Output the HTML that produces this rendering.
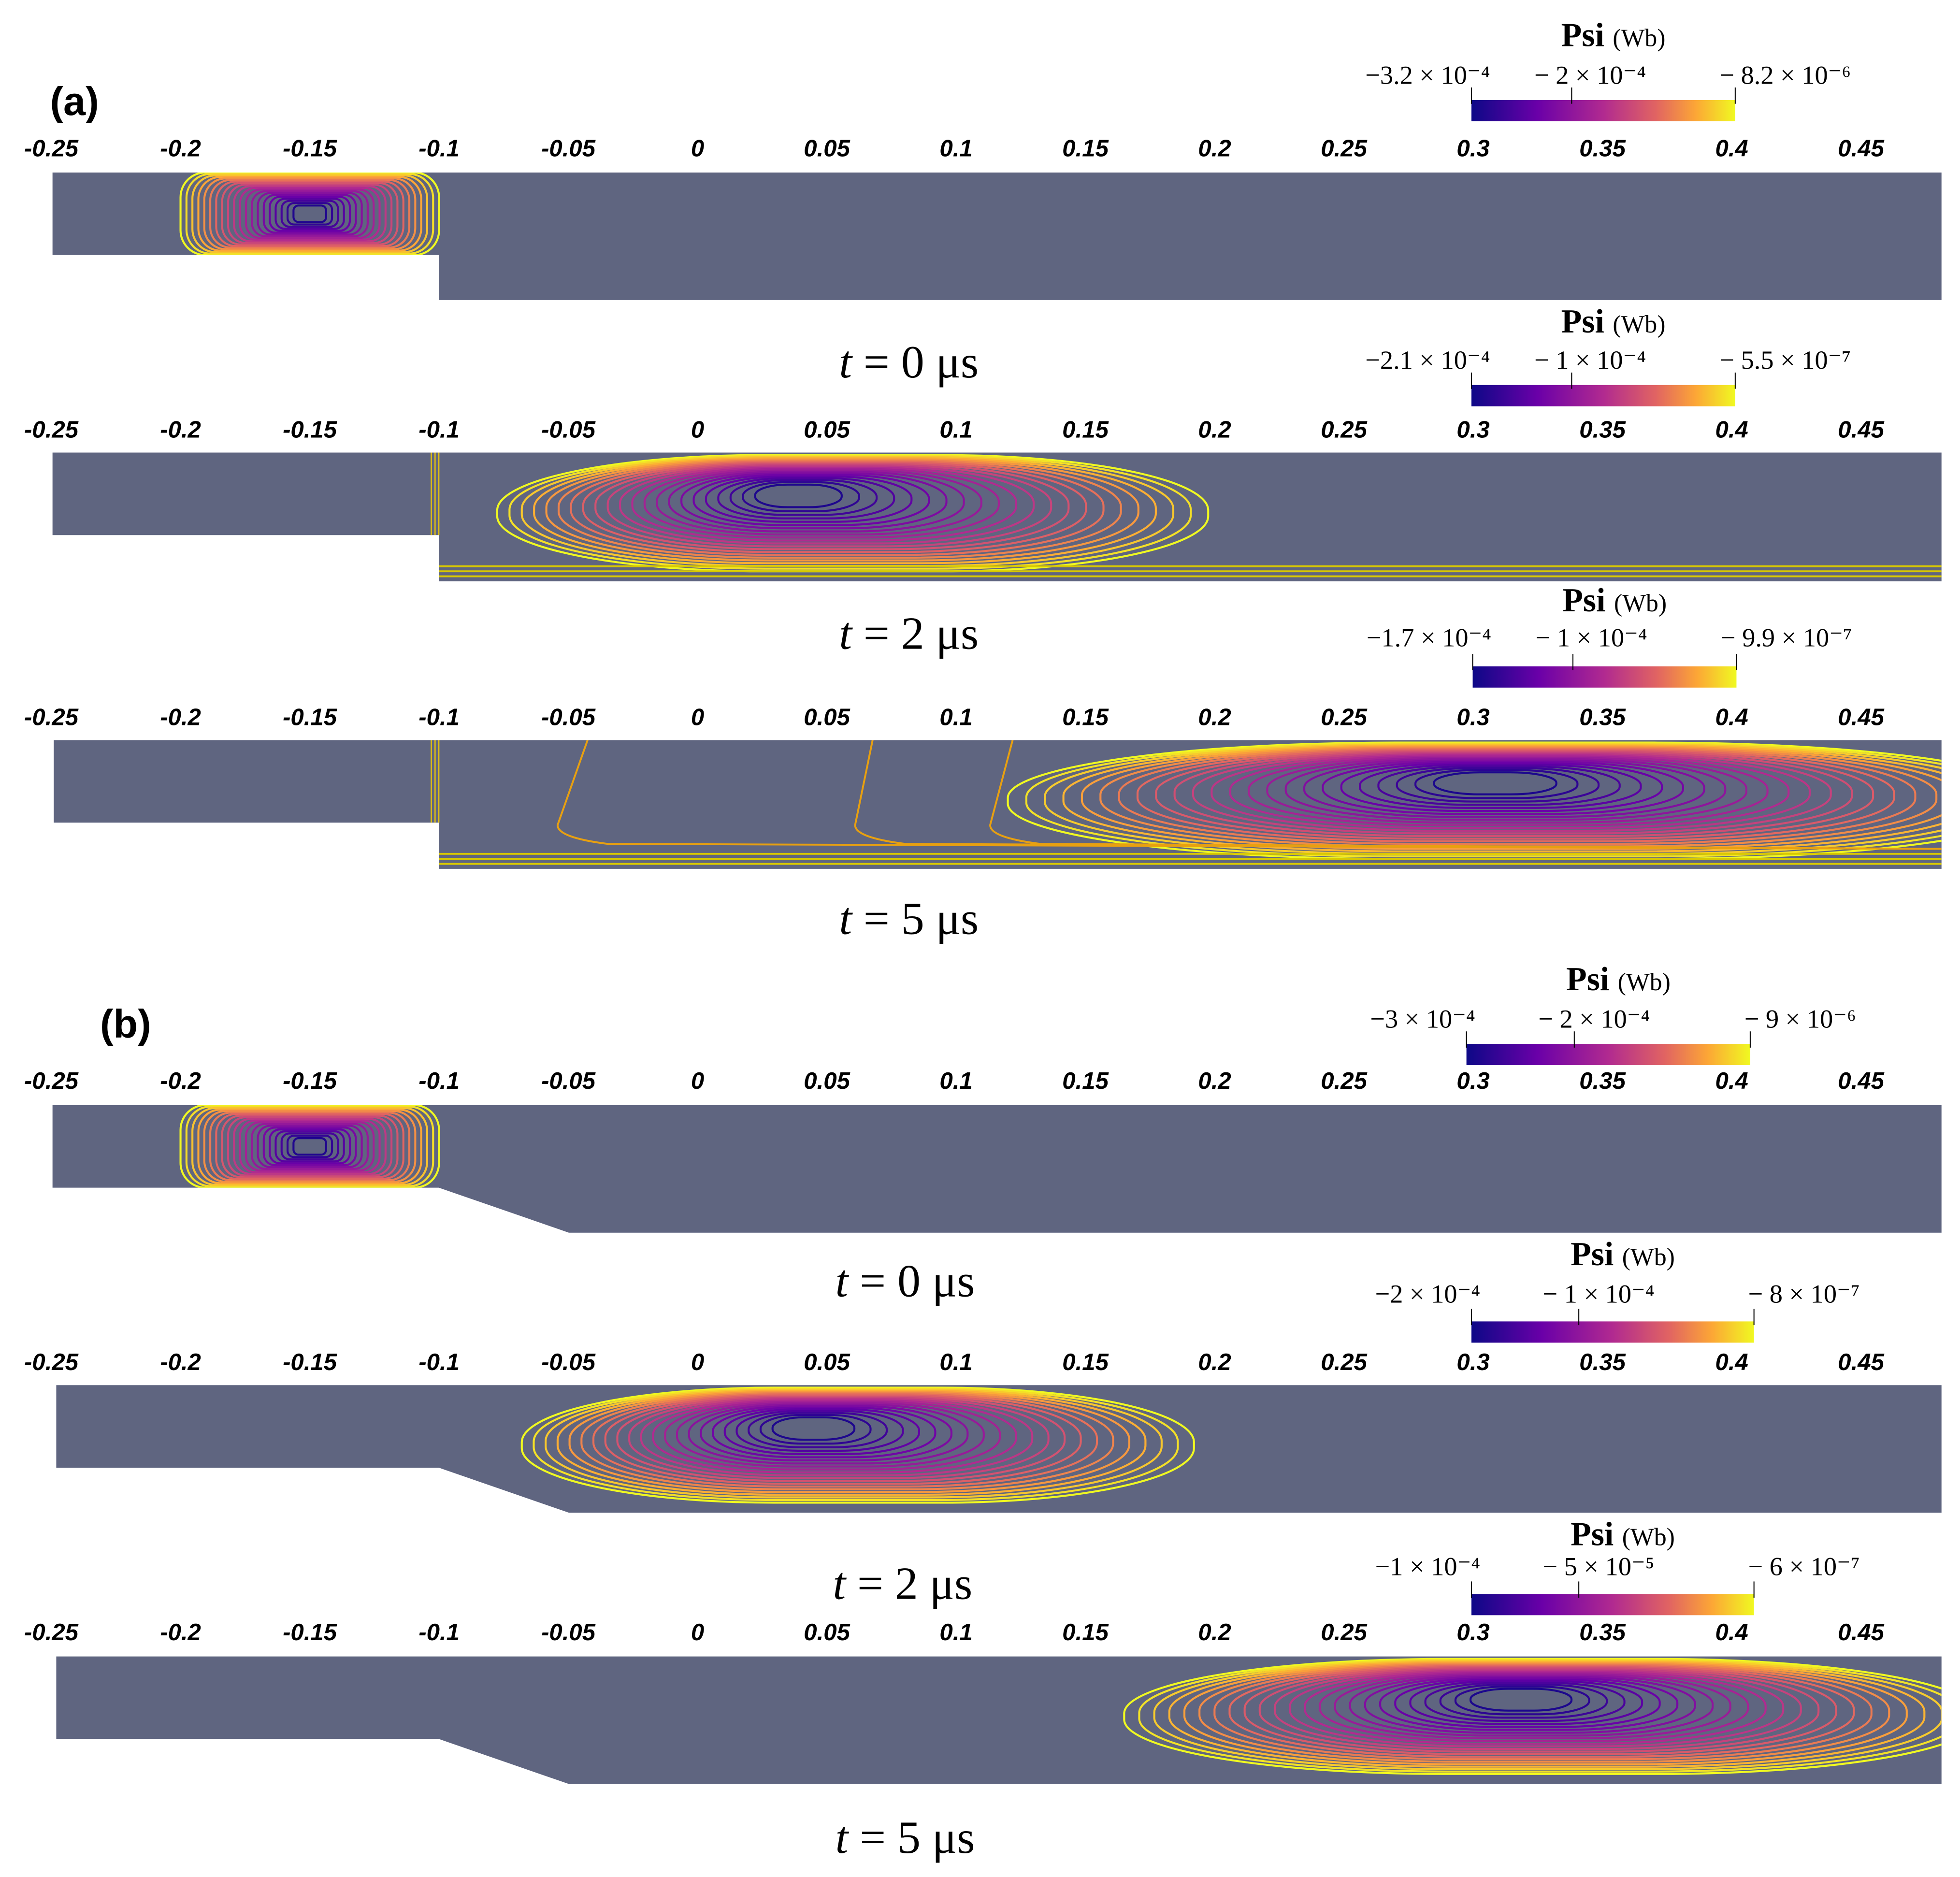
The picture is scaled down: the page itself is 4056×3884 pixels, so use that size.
<!DOCTYPE html>
<html><head><meta charset="utf-8"><style>
html,body{margin:0;padding:0;background:#fff;width:4056px;height:3884px;overflow:hidden}
svg{display:block}
.tk{font-family:"Liberation Sans",sans-serif;font-weight:bold;font-style:italic;font-size:19px;text-anchor:middle;fill:#000}
.cb{font-family:"Liberation Serif",serif;font-size:21px;text-anchor:middle;fill:#000}
.ps{font-family:"Liberation Serif",serif;font-weight:bold;font-size:27px;text-anchor:middle;fill:#000}
.tt{font-family:"Liberation Serif",serif;font-size:37px;text-anchor:middle;fill:#000}
.pl{font-family:"Liberation Sans",sans-serif;font-weight:bold;font-size:32px;fill:#000}
</style></head><body>
<svg id="fig" width="4056" height="3884" viewBox="0 0 1567.8 1501.4" preserveAspectRatio="none" xmlns="http://www.w3.org/2000/svg">
<defs>
<linearGradient id="plasma" x1="0" x2="1" y1="0" y2="0">
<stop offset="0" stop-color="#0d0887"/><stop offset="0.25" stop-color="#6a00a8"/><stop offset="0.5" stop-color="#b12a90"/><stop offset="0.7" stop-color="#e16462"/><stop offset="0.85" stop-color="#fca636"/><stop offset="1" stop-color="#f0f921"/>
</linearGradient>
</defs>
<text class="pl" x="40" y="92">(a)</text>
<text class="pl" x="80" y="830">(b)</text>
</svg>
<script>
const tickValues=[-0.25,-0.2,-0.15,-0.1,-0.05,0,0.05,0.1,0.15,0.2,0.25,0.3,0.35,0.4,0.45];
const tickLabels=["-0.25","-0.2","-0.15","-0.1","-0.05","0","0.05","0.1","0.15","0.2","0.25","0.3","0.35","0.4","0.45"];
const timeLabels=["t = 0 μs","t = 2 μs","t = 5 μs","t = 0 μs","t = 2 μs","t = 5 μs"];
const cbLabels=[["−3.2 × 10⁻⁴","− 2 × 10⁻⁴","− 8.2 × 10⁻⁶"],["−2.1 × 10⁻⁴","− 1 × 10⁻⁴","− 5.5 × 10⁻⁷"],["−1.7 × 10⁻⁴","− 1 × 10⁻⁴","− 9.9 × 10⁻⁷"],["−3 × 10⁻⁴","− 2 × 10⁻⁴","− 9 × 10⁻⁶"],["−2 × 10⁻⁴","− 1 × 10⁻⁴","− 8 × 10⁻⁷"],["−1 × 10⁻⁴","− 5 × 10⁻⁵","− 6 × 10⁻⁷"]];
// vortex core x (m), outer-contour center x (m), outer half-width (m)
const vortexCenterX=[-0.15,0.038,0.308,-0.15,0.044,0.318];
const vortexOuterX=[-0.15,0.06,0.32,-0.15,0.062,0.33];
const vortexHalfWidth=[0.1,0.275,0.4,0.1,0.26,0.33];
const contourCount=[20,22,24,20,22,24];

const NS="http://www.w3.org/2000/svg";
const svg=document.getElementById('fig');
const X0=558,SC=2068;
function xs(v){return X0+v*SC;}
function mk(tag,attrs,parent){const e=document.createElementNS(NS,tag);for(const k in attrs)e.setAttribute(k,attrs[k]);(parent||svg).appendChild(e);return e;}
function plasma(t){const s=[[13,8,135],[106,0,168],[177,42,144],[225,100,98],[252,166,54],[240,249,33]];const p=[0,0.25,0.5,0.7,0.85,1];
for(let i=0;i<5;i++){if(t<=p[i+1]){const f=(t-p[i])/(p[i+1]-p[i]);const c=s[i].map((a,j)=>Math.round(a+(s[i+1][j]-a)*f));return `rgb(${c})`;}}return 'rgb(240,249,33)';}

const panels=[
 {tick:118,top:138,mid:204,bot:240,left:42,ramp:false,cbx:1177,cbw:211,cby:80,cbLab:60,psi:28,tt:290,ttx:727},
 {tick:343,top:362,mid:428,bot:465,left:42,ramp:false,cbx:1177,cbw:211,cby:308,cbLab:288,psi:257,tt:507,ttx:727},
 {tick:573,top:592,mid:658,bot:695,left:43,ramp:false,cbx:1178,cbw:211,cby:533,cbLab:510,psi:480,tt:735,ttx:727},
 {tick:864,top:884,mid:950,bot:986,left:42,ramp:true,cbx:1173,cbw:227,cby:835,cbLab:815,psi:783,tt:1025,ttx:724},
 {tick:1089,top:1108,mid:1174,bot:1210,left:45,ramp:true,cbx:1177,cbw:226,cby:1057,cbLab:1035,psi:1003,tt:1267,ttx:722},
 {tick:1305,top:1325,mid:1391,bot:1427,left:45,ramp:true,cbx:1177,cbw:226,cby:1275,cbLab:1253,psi:1227,tt:1470,ttx:724}
];
const R=1553;
panels.forEach((p,i)=>{
 const g=mk('g',{});
 
 
 tickValues.forEach((v,k)=>{const t=mk('text',{class:'tk',x:xs(v),y:p.tick+7},g);t.textContent=tickLabels[k];
  
  });
 const xStep=351;
 let d;
 if(p.ramp) d=`M${p.left},${p.top}H${R}V${p.bot}H${xStep+104}L${xStep},${p.mid}H${p.left}Z`;
 else d=`M${p.left},${p.top}H${R}V${p.bot}H${xStep}V${p.mid}H${p.left}Z`;
 const cid='clip'+i;
 const cp=mk('clipPath',{id:cid},g);mk('path',{d:d},cp);
 const dom=mk('path',{d:d,fill:'#5f6580'},g);
 
 
 const cg=mk('g',{'clip-path':`url(#${cid})`},g);
 const small=(i==0||i==3);
 const cxIn=xs(vortexCenterX[i]), cxOut=xs(vortexOuterX[i]);
 const hw=vortexHalfWidth[i]*SC/2;
 const cyIn=small?(p.top+p.mid)/2:p.top+34;
 const cyOut=small?(p.top+p.mid)/2:(p.top+p.bot)/2-3;
 const hh=small?(p.mid-p.top)/2:(p.bot-p.top)/2-5;
 const n=contourCount[i];
 for(let k=0;k<n;k++){
  const f=1-k/n;
  const cx=cxIn+(cxOut-cxIn)*f, cy=cyIn+(cyOut-cyIn)*f;
  const w=hw*(0.08+0.92*f), h=hh*(0.12+0.88*Math.pow(f,0.8));
  const rx=small?Math.min(w,h)*0.6:w*0.75;
  const ry=h*(small?0.6:0.95);
  const r=mk('rect',{x:cx-w,y:cy-h,width:2*w,height:2*h,rx:rx,ry:ry,fill:'none',stroke:plasma(f),'stroke-width':1.6},cg);
  
  
 }
 if(i==1||i==2){[xStep-6,xStep-3,xStep].forEach(x=>{const l=mk('line',{x1:x,y1:p.top,x2:x,y2:p.mid,stroke:'#e0c010','stroke-width':1},cg);
  
  });
  [p.bot-12,p.bot-8,p.bot-4].forEach(y=>{const l=mk('line',{x1:xStep,y1:y,x2:R,y2:y,stroke:'#d8c800','stroke-width':1.5},cg);
  
  });}
 if(i==2){[[470,446],[698,684],[810,792]].forEach(a=>{const l=mk('path',{d:`M${a[0]},${p.top}L${a[1]},${p.bot-35}Q${a[1]},${p.bot-25} ${a[1]+40},${p.bot-20}L${R},${p.bot-16}`,fill:'none',stroke:'#e8a010','stroke-width':1.5},cg);
  
  });}
 const cb=mk('rect',{x:p.cbx,y:p.cby,width:p.cbw,height:17,fill:'url(#plasma)'},g);
 
 
 [0,0.38,1].forEach(f=>{mk('line',{x1:p.cbx+f*p.cbw,y1:p.cby-10,x2:p.cbx+f*p.cbw,y2:p.cby+3,stroke:'#000','stroke-width':0.8},g);});
 const lx=[p.cbx-35,p.cbx+p.cbw*0.45,p.cbx+p.cbw+40];
 cbLabels[i].forEach((s,k)=>{const t=mk('text',{class:'cb',x:lx[k],y:p.cbLab+7},g);t.textContent=s;
  
  });
 const ps=mk('text',{class:'ps',x:p.cbx+p.cbw/2+8,y:p.psi+9},g);ps.innerHTML='Psi <tspan font-size="20" font-weight="normal">(Wb)</tspan>';
 
 
 const tt=mk('text',{class:'tt',x:p.ttx,y:p.tt+12},g);tt.innerHTML='<tspan font-style="italic">t</tspan>'+timeLabels[i].slice(1);
 
 
});
</script>
</body></html>
